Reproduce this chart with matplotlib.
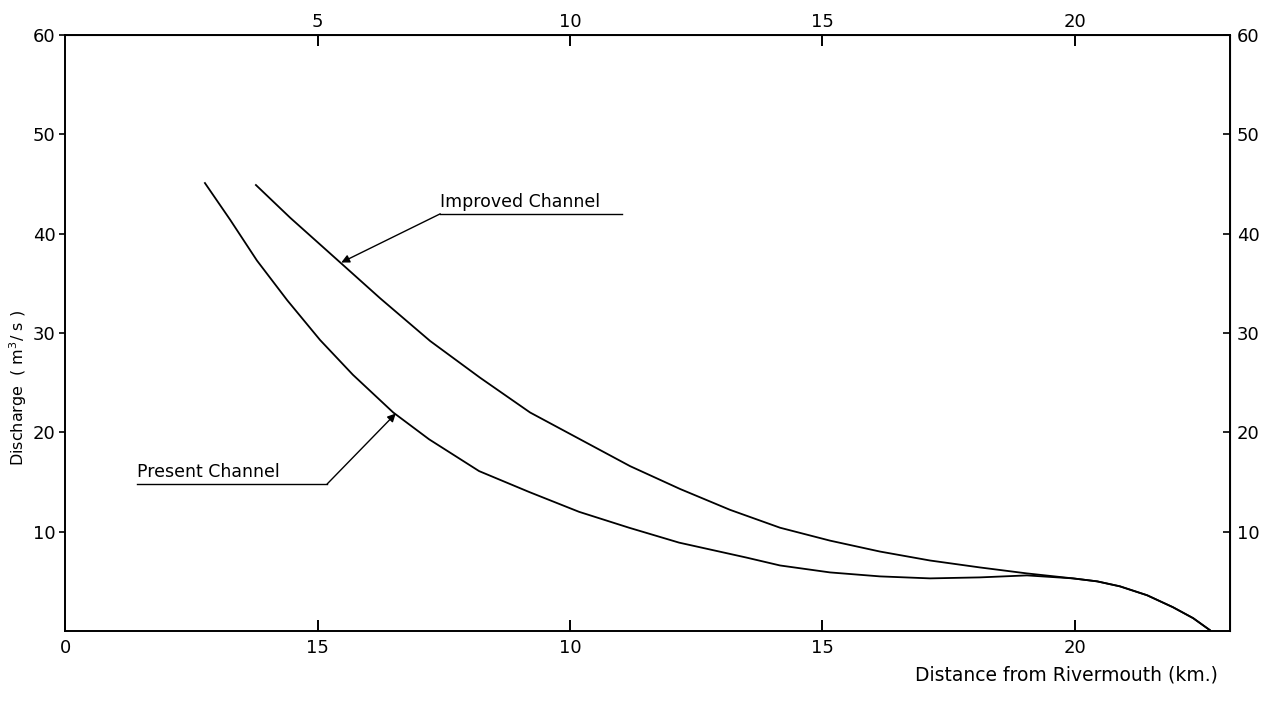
import numpy as np
import matplotlib
matplotlib.use("Agg")
import matplotlib.pyplot as plt

# Data (distance in km, discharge in m3/s)
present_x = [2.77, 3.27, 3.80, 4.40, 5.05, 5.70, 6.50, 7.21, 8.20, 9.19, 10.18,
             11.17, 12.16, 13.49, 14.16, 15.15, 16.14, 17.13, 18.12, 19.05,
             19.96, 20.44, 20.89, 21.43, 21.94, 22.34, 22.67]
present_y = [45.1, 41.4, 37.3, 33.3, 29.3, 25.8, 22.0, 19.3, 16.1, 14.0, 12.0,
             10.4, 8.9, 7.4, 6.6, 5.9, 5.5, 5.3, 5.4, 5.6,
             5.3, 5.0, 4.5, 3.6, 2.4, 1.3, 0.1]

improved_x = [3.78, 4.46, 5.45, 6.24, 7.23, 8.22, 9.21, 10.20, 11.19, 12.18,
              13.17, 14.16, 15.15, 16.14, 17.13, 18.12, 19.05,
              19.96, 20.44, 20.89, 21.43, 21.94, 22.34, 22.67]
improved_y = [44.9, 41.6, 37.1, 33.5, 29.2, 25.5, 22.0, 19.3, 16.6, 14.3,
              12.2, 10.4, 9.1, 8.0, 7.1, 6.4, 5.8,
              5.3, 5.0, 4.5, 3.6, 2.4, 1.3, 0.1]

bottom_ticks = [0, 5, 10, 15, 20]
bottom_labels = ['0', '15', '10', '15', '20']
top_ticks = [5, 10, 15, 20]
y_ticks = [10, 20, 30, 40, 50, 60]

fig = plt.figure(figsize=(12.78, 7.02), dpi=100)
ax = fig.add_axes([0.0509, 0.1011, 0.9115, 0.849])

ax.plot(present_x, present_y, color='black', lw=1.3)
ax.plot(improved_x, improved_y, color='black', lw=1.3)

ax.set_xlim(0, 23.07)
ax.set_ylim(0, 60)

for s in ax.spines.values():
    s.set_linewidth(1.4)

ax.set_xticks(bottom_ticks, bottom_labels)
ax.set_yticks(y_ticks)
ax.tick_params(axis='x', direction='in', length=8, width=1.4, labelsize=13, pad=6)
ax.tick_params(axis='y', direction='out', length=4, width=1.2, labelsize=13, pad=3)

top = ax.secondary_xaxis('top')
top.set_xticks(top_ticks)
top.tick_params(direction='in', length=8, width=1.4, labelsize=13, pad=3)

right = ax.secondary_yaxis('right')
right.set_yticks(y_ticks)
right.tick_params(direction='in', length=5, width=1.2, labelsize=13, pad=5)

# axis titles
fig.text(0.014, 0.447, 'Discharge  ( m$^3$/ s )', fontsize=11.5,
         rotation=90, ha='center', va='center')
fig.text(0.953, 0.03, 'Distance from Rivermouth (km.)', fontsize=13.5,
         ha='right', va='baseline')

# Improved Channel label with leader
ax.text(7.43, 42.3, 'Improved Channel', fontsize=12.5, ha='left', va='bottom')
ax.plot([7.43, 11.03], [42.0, 42.0], color='black', lw=1.0)
ax.annotate('', xy=(5.47, 37.1), xytext=(7.43, 42.0),
            arrowprops=dict(arrowstyle='-|>', color='black', lw=1.0,
                            mutation_scale=12, shrinkA=0, shrinkB=0))

# Present Channel label with leader
ax.text(1.43, 15.1, 'Present Channel', fontsize=12.5, ha='left', va='bottom')
ax.plot([1.43, 5.19], [14.8, 14.8], color='black', lw=1.0)
ax.annotate('', xy=(6.55, 21.9), xytext=(5.19, 14.8),
            arrowprops=dict(arrowstyle='-|>', color='black', lw=1.0,
                            mutation_scale=12, shrinkA=0, shrinkB=0))

fig.savefig('out.png', dpi=100)
